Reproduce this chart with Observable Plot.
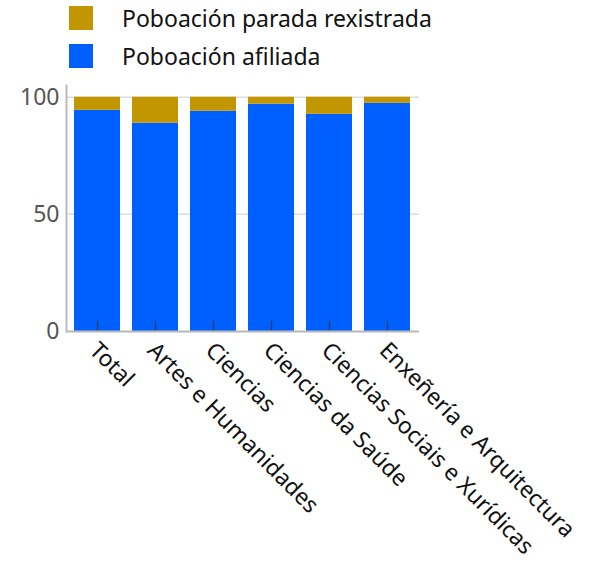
<!DOCTYPE html>
<html>
<head>
<meta charset="utf-8">
<script src="https://cdn.jsdelivr.net/npm/d3@7"></script>
<script src="https://cdn.jsdelivr.net/npm/@observablehq/plot@0.6"></script>
<style>
  html, body { margin: 0; padding: 0; background: #fff; }
  body { width: 591px; height: 564px; overflow: hidden; font-family: "Noto Sans", sans-serif; }
  #legend { height: 80px; position: relative; }
  .item { position: absolute; left: 69px; height: 24px; display: flex; align-items: center; font-size: 23px; color: #111; white-space: nowrap; }
  .sw { width: 24px; height: 24px; margin-right: 29px; flex: none; }
</style>
</head>
<body>
<div id="legend"></div>
<div id="chart"></div>
<script>
const categories = ["Total", "Artes e Humanidades", "Ciencias", "Ciencias da Saúde", "Ciencias Sociais e Xurídicas", "Enxeñería e Arquitectura"];
const afiliada = [94.4, 88.9, 94.0, 97.0, 92.7, 97.4];
const parada = [5.6, 11.1, 6.0, 3.0, 7.3, 2.6];
const seriesNames = ["Poboación parada rexistrada", "Poboación afiliada"];
const seriesColors = ["#c29600", "#0060ff"];
const yTicks = [0, 50, 100];

const data = [];
categories.forEach((c, i) => {
  data.push({cat: c, serie: seriesNames[1], value: afiliada[i], order: 0});
  data.push({cat: c, serie: seriesNames[0], value: parada[i], order: 1});
});

// legend
const legend = document.getElementById("legend");
seriesNames.forEach((s, i) => {
  const el = document.createElement("div");
  el.className = "item";
  el.style.top = (6 + i * 38) + "px";
  el.innerHTML = `<div class="sw" style="background:${seriesColors[i]}"></div><span>${s}</span>`;
  legend.appendChild(el);
});

const chart = Plot.plot({
  width: 591,
  height: 484,
  marginTop: 5,
  marginLeft: 66,
  marginRight: 172,
  marginBottom: 233,
  style: {fontFamily: "Noto Sans, sans-serif", background: "#fff"},
  x: {domain: categories, paddingInner: 0.2, paddingOuter: 0.1, label: null},
  y: {domain: [0, 105], label: null},
  color: {domain: seriesNames, range: seriesColors},
  marks: [
    Plot.gridY(yTicks, {stroke: "#dddddd", strokeOpacity: 1, strokeWidth: 1.5}),
    Plot.barY(data, Plot.stackY({x: "cat", y: "value", fill: "serie", order: "order"})),
    Plot.frame({anchor: "left", stroke: "#bbbbbb", strokeWidth: 2}),
    Plot.axisY({ticks: yTicks, tickSize: 0, tickPadding: 7, fontSize: 23, color: "#555", label: null}),
    // inner ticks at the foot of each bar
    Plot.ruleX(categories, {x: d => d, y1: yTicks[0], y2: yTicks[0], insetTop: -10, stroke: "#34405a", strokeWidth: 1.3}),
    Plot.axisX({tickSize: 0, tickPadding: 15, tickRotate: 45, fontSize: 22.8, color: "#111", label: null, dx: -4}),
    Plot.ruleY([0], {stroke: "#bbbbbb", strokeWidth: 2})
  ]
});
document.getElementById("chart").appendChild(chart);
</script>
</body>
</html>
